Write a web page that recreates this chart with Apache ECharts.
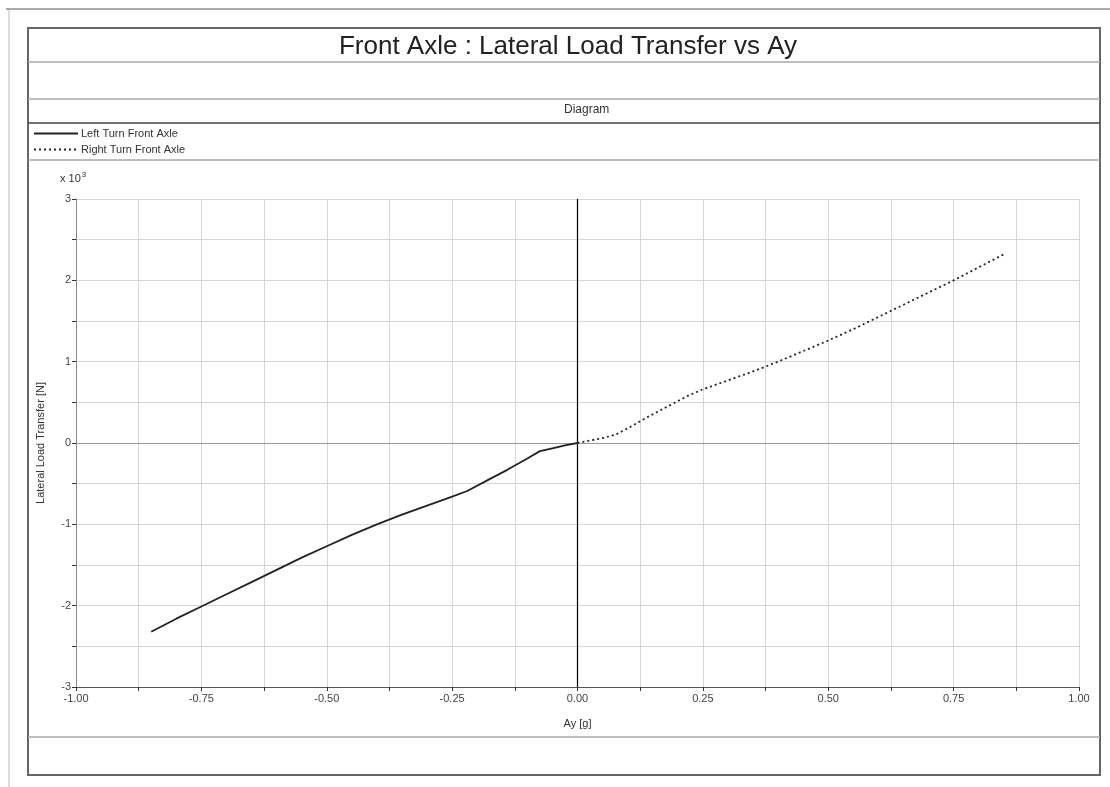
<!DOCTYPE html>
<html>
<head>
<meta charset="utf-8">
<script src="https://cdn.jsdelivr.net/npm/echarts@6/dist/echarts.min.js"></script>
<style>
html,body{margin:0;padding:0;background:#fff;}
#chart{width:1110px;height:787px;}
</style>
</head>
<body>
<div id="chart"></div>
<script>
// ---- data (Ay [g], Lateral Load Transfer [x10^3 N]) ----
const leftTurnAy = [-0.85, -0.80, -0.75, -0.70, -0.65, -0.60, -0.55, -0.50, -0.45, -0.40, -0.35, -0.30, -0.25, -0.22, -0.18, -0.14, -0.10, -0.075, -0.05, -0.025, 0];
const leftTurnLLT = [-2.32, -2.16, -2.01, -1.86, -1.71, -1.56, -1.41, -1.27, -1.13, -1.00, -0.88, -0.77, -0.66, -0.59, -0.46, -0.33, -0.19, -0.10, -0.065, -0.03, 0];
const rightTurnAy = [0, 0.025, 0.05, 0.075, 0.10, 0.14, 0.18, 0.22, 0.25, 0.30, 0.35, 0.40, 0.45, 0.50, 0.55, 0.60, 0.65, 0.70, 0.75, 0.80, 0.85];
const rightTurnLLT = [0, 0.03, 0.06, 0.10, 0.18, 0.32, 0.45, 0.58, 0.66, 0.77, 0.88, 1.00, 1.13, 1.26, 1.40, 1.55, 1.70, 1.85, 2.00, 2.16, 2.32];
const xTickLabels = ['-1.00', '-0.75', '-0.50', '-0.25', '0.00', '0.25', '0.50', '0.75', '1.00'];
const yTickLabels = ['-3', '-2', '-1', '0', '1', '2', '3'];
const seriesNames = ['Left Turn Front Axle', 'Right Turn Front Axle'];

const FONT = '"Liberation Sans", Arial, sans-serif';

function near(v, step) { return Math.abs(v / step - Math.round(v / step)) < 1e-6; }

const chart = echarts.init(document.getElementById('chart'), null, {renderer: 'canvas'});

const hline = (y, x1, x2, color, w) => ({type: 'line', silent: true, shape: {x1: x1, y1: y, x2: x2, y2: y}, style: {stroke: color, lineWidth: w}});
const vline = (x, y1, y2, color, w) => ({type: 'line', silent: true, shape: {x1: x, y1: y1, x2: x, y2: y2}, style: {stroke: color, lineWidth: w}});

chart.setOption({
  animation: false,
  backgroundColor: '#ffffff',
  title: {
    text: 'Front Axle : Lateral Load Transfer vs Ay',
    left: 563, top: 29, textAlign: 'center',
    textStyle: {fontFamily: FONT, fontSize: 26, fontWeight: 'normal', color: '#222'}
  },
  legend: {
    orient: 'vertical', left: 28, top: 123,
    itemWidth: 44, itemHeight: 8, itemGap: 5,
    itemStyle: {opacity: 0, borderWidth: 0},
    textStyle: {fontFamily: FONT, fontSize: 11, color: '#333', padding: [0, 0, 0, -2]},
    data: seriesNames.map(n => ({name: n, itemStyle: {opacity: 0}}))
  },
  grid: {left: 76, right: 31, top: 199, bottom: 100, containLabel: false},
  xAxis: {
    type: 'value', min: -1, max: 1, interval: 0.125,
    name: 'Ay [g]', nameLocation: 'middle', nameGap: 31,
    nameTextStyle: {fontFamily: FONT, fontSize: 11, color: '#333'},
    axisLine: {show: true, onZero: false, lineStyle: {color: '#555', width: 1}},
    axisTick: {show: true, inside: false, length: 4, lineStyle: {color: '#333'}},
    axisLabel: {
      fontFamily: FONT, fontSize: 11, color: '#444', margin: 6, showMinLabel: true, showMaxLabel: true,
      formatter: v => near(v, 0.25) ? xTickLabels[Math.round((v + 1) / 0.25)] : ''
    },
    splitLine: {show: true, lineStyle: {color: '#d6d6d6', width: 1}}
  },
  yAxis: {
    type: 'value', min: -3, max: 3, interval: 0.5,
    name: 'Lateral Load Transfer [N]', nameLocation: 'middle', nameGap: 30, nameRotate: 90,
    nameTextStyle: {fontFamily: FONT, fontSize: 11, color: '#333'},
    axisLine: {show: true, onZero: false, lineStyle: {color: '#888', width: 1}},
    axisTick: {show: true, inside: false, length: 4, lineStyle: {color: '#333'}},
    axisLabel: {
      fontFamily: FONT, fontSize: 11, color: '#444', margin: 5,
      formatter: v => near(v, 1) ? yTickLabels[Math.round(v + 3)] : ''
    },
    splitLine: {show: true, lineStyle: {color: '#d6d6d6', width: 1}}
  },
  series: [
    {
      name: seriesNames[0], type: 'line', showSymbol: false, symbol: 'none',
      data: leftTurnAy.map((x, i) => [x, leftTurnLLT[i]]),
      lineStyle: {color: '#222', width: 1.8, type: 'solid'},
      itemStyle: {color: '#222'},
      z: 5,
      markLine: {
        silent: true, symbol: 'none', label: {show: false},
        data: [
          {xAxis: 0, lineStyle: {color: '#000', width: 1.2, type: 'solid'}},
          {yAxis: 0, lineStyle: {color: '#999', width: 1.2, type: 'solid'}}
        ]
      }
    },
    {
      name: seriesNames[1], type: 'line', showSymbol: false, symbol: 'none',
      data: rightTurnAy.map((x, i) => [x, rightTurnLLT[i]]),
      lineStyle: {color: '#222', width: 1.8, type: [2, 3]},
      itemStyle: {color: '#222'},
      z: 5
    }
  ],
  graphic: [
    hline(9, 6, 1110, '#555', 1),
    vline(9, 9, 787, '#bbb', 1),
    {type: 'rect', silent: true, shape: {x: 28, y: 28, width: 1072, height: 747}, style: {fill: 'none', stroke: '#666', lineWidth: 2}},
    hline(62, 28, 1100, '#aaa', 1.5),
    hline(99, 28, 1100, '#aaa', 1.5),
    hline(123, 28, 1100, '#444', 1.5),
    hline(160, 28, 1100, '#aaa', 1.5),
    hline(737, 28, 1100, '#aaa', 1.5),
    {type: 'text', silent: true, left: 564, top: 104, style: {text: 'Diagram', fontFamily: FONT, fontSize: 12, fill: '#333', textAlign: 'center'}},
    {type: 'text', silent: true, left: 60, top: 171, style: {
      text: '{a|x 10}{b|3}', fontFamily: FONT,
      rich: {a: {fontSize: 11, fill: '#333', fontFamily: FONT}, b: {fontSize: 8, fill: '#333', fontFamily: FONT, verticalAlign: 'top', padding: [0, 0, 8, 1]}}
    }}
  ]
});
</script>
</body>
</html>
